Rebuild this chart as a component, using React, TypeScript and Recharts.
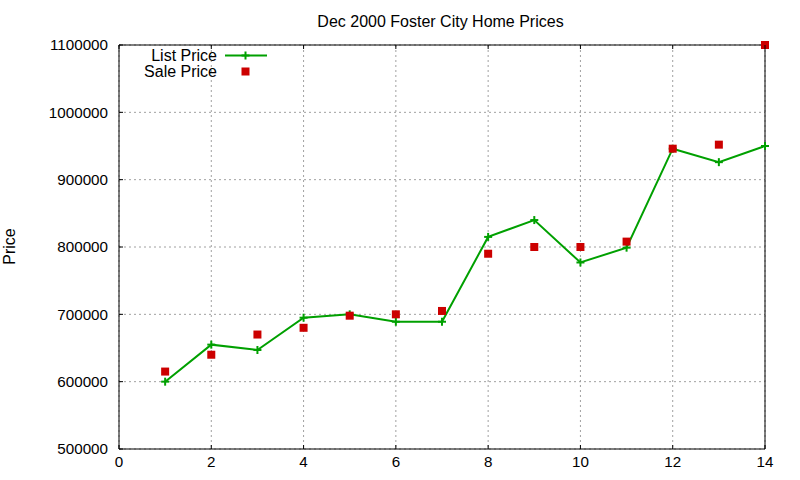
import React from "react";
import { ComposedChart, Line, XAxis, YAxis, CartesianGrid } from "recharts";

const xValues = [1, 2, 3, 4, 5, 6, 7, 8, 9, 10, 11, 12, 13, 14];
const listPrice = [600000, 655000, 647000, 695000, 700000, 689000, 689000, 815000, 840000, 777000, 799000, 946000, 926000, 950000];
const salePrice = [615000, 640000, 670000, 680000, 698000, 700000, 705000, 790000, 800000, 800000, 808000, 946000, 952000, 1100000];
const xTicks = [0, 2, 4, 6, 8, 10, 12, 14];
const yTicks = [500000, 600000, 700000, 800000, 900000, 1000000, 1100000];

const data = xValues.map((x, i) => ({ x, list: listPrice[i], sale: salePrice[i] }));

const FONT = "'Liberation Sans', Arial, sans-serif";
const GREEN = "#00a000";
const RED = "#cc0000";

const LeftTick = (props: any) => {
  const { x, y, payload } = props;
  return (
    <g>
      <line x1={x} y1={y} x2={x + 4} y2={y} stroke="#000" strokeWidth={1} />
      <text x={x - 11} y={y} dy="0.35em" textAnchor="end" fontFamily={FONT} fontSize={15.2} fill="#000">
        {payload.value}
      </text>
    </g>
  );
};

const RightTick = (props: any) => {
  const { x, y } = props;
  return <line x1={x} y1={y} x2={x - 4} y2={y} stroke="#000" strokeWidth={1} />;
};

const BottomTick = (props: any) => {
  const { x, y, payload } = props;
  return (
    <g>
      <line x1={x} y1={y} x2={x} y2={y - 4} stroke="#000" strokeWidth={1} />
      <text x={x} y={y + 18} textAnchor="middle" fontFamily={FONT} fontSize={15.2} fill="#000">
        {payload.value}
      </text>
    </g>
  );
};

const TopTick = (props: any) => {
  const { x, y } = props;
  return <line x1={x} y1={y} x2={x} y2={y + 4} stroke="#000" strokeWidth={1} />;
};

const PlusDot = (props: any) => {
  const { cx, cy, index } = props;
  if (cx == null || cy == null) return <g key={index} />;
  return (
    <g key={index}>
      <line x1={cx - 4} y1={cy} x2={cx + 4} y2={cy} stroke={GREEN} strokeWidth={2} />
      <line x1={cx} y1={cy - 4} x2={cx} y2={cy + 4} stroke={GREEN} strokeWidth={2} />
    </g>
  );
};

const SquareDot = (props: any) => {
  const { cx, cy, index } = props;
  if (cx == null || cy == null) return <g key={index} />;
  return <rect key={index} x={cx - 4} y={cy - 4} width={8} height={8} fill={RED} />;
};

export default function App() {
  return (
    <div style={{ position: "absolute", left: 0, top: 0, width: 800, height: 480, background: "#fff" }}>
      <ComposedChart width={800} height={480} data={data} margin={{ top: 40, right: 30, bottom: 6, left: 9 }}>
        <CartesianGrid xAxisId="b" yAxisId="l" stroke="#a0a0a0" strokeDasharray="2 3" />
        <XAxis
          xAxisId="b"
          dataKey="x"
          type="number"
          domain={[0, 14]}
          ticks={xTicks}
          height={25}
          tickSize={0}
          tickMargin={0}
          tickLine={false}
          axisLine={{ stroke: "#000" }}
          tick={<BottomTick />}
        />
        <XAxis
          xAxisId="t"
          orientation="top"
          dataKey="x"
          type="number"
          domain={[0, 14]}
          ticks={xTicks}
          height={5}
          tickSize={0}
          tickMargin={0}
          tickLine={false}
          axisLine={{ stroke: "#000" }}
          tick={<TopTick />}
        />
        <YAxis
          yAxisId="l"
          type="number"
          domain={[500000, 1100000]}
          ticks={yTicks}
          width={110}
          tickSize={0}
          tickMargin={0}
          tickLine={false}
          axisLine={{ stroke: "#000" }}
          tick={<LeftTick />}
        />
        <YAxis
          yAxisId="r"
          orientation="right"
          type="number"
          domain={[500000, 1100000]}
          ticks={yTicks}
          width={5}
          tickSize={0}
          tickMargin={0}
          tickLine={false}
          axisLine={{ stroke: "#000" }}
          tick={<RightTick />}
        />
        <Line
          xAxisId="b"
          yAxisId="l"
          dataKey="list"
          type="linear"
          stroke={GREEN}
          strokeWidth={2}
          dot={<PlusDot />}
          activeDot={false}
          isAnimationActive={false}
        />
        <Line
          xAxisId="b"
          yAxisId="l"
          dataKey="sale"
          type="linear"
          stroke="none"
          dot={<SquareDot />}
          activeDot={false}
          isAnimationActive={false}
        />
      </ComposedChart>
      <svg
        width={800}
        height={480}
        style={{ position: "absolute", left: 0, top: 0, pointerEvents: "none" }}
        fontFamily={FONT}
        fontSize={16}
      >
        <text x={440.5} y={27} textAnchor="middle" fill="#000">
          Dec 2000 Foster City Home Prices
        </text>
        <text x={14.7} y={246.5} textAnchor="middle" fill="#000" transform="rotate(-90 14.7 246.5)">
          Price
        </text>
        <text x={217} y={55} dy="0.35em" textAnchor="end" fill="#000">
          List Price
        </text>
        <line x1={225} y1={55.5} x2={267} y2={55.5} stroke={GREEN} strokeWidth={2} />
        <line x1={241.5} y1={55.5} x2={249.5} y2={55.5} stroke={GREEN} strokeWidth={2} />
        <line x1={245.5} y1={51.5} x2={245.5} y2={59.5} stroke={GREEN} strokeWidth={2} />
        <text x={217} y={71} dy="0.35em" textAnchor="end" fill="#000">
          Sale Price
        </text>
        <rect x={241.5} y={67.5} width={8} height={8} fill={RED} />
      </svg>
    </div>
  );
}
